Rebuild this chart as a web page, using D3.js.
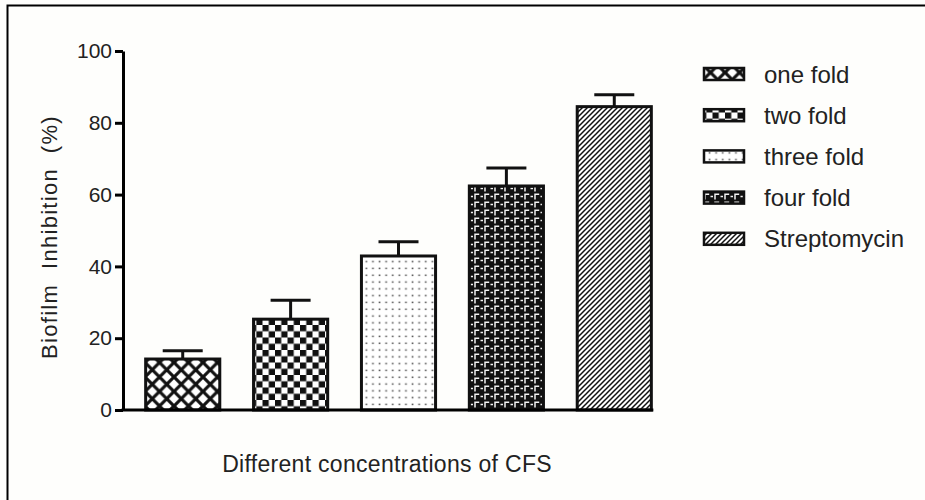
<!DOCTYPE html>
<html><head><meta charset="utf-8">
<script src="https://cdn.jsdelivr.net/npm/d3@7"></script>
<style>
html,body{margin:0;padding:0;background:#fefefc;}
svg{display:block;font-family:Arial,"Liberation Sans",sans-serif;}
</style></head>
<body>
<svg id="c" width="925" height="500"></svg>
<script>
const categories = ["one fold","two fold","three fold","four fold","Streptomycin"];
const values = [14.2, 25.3, 42.9, 62.4, 84.5];
const errors = [2.3, 5.3, 4.0, 5.0, 3.3];
const yTicks = [0,20,40,60,80,100];
const patternIds = ["p-cross","p-check","p-dots","p-four","p-diag"];

const svg = d3.select("#c");
const defs = svg.append("defs");

// patterns
let p = defs.append("pattern").attr("id","p-cross").attr("patternUnits","userSpaceOnUse").attr("width",14.5).attr("height",14.5);
p.append("rect").attr("width",14.5).attr("height",14.5).attr("fill","#fff");
p.append("path").attr("d","M-2,-2L16.5,16.5M-2,16.5L16.5,-2").attr("stroke","#111").attr("stroke-width",3.2);

p = defs.append("pattern").attr("id","p-check").attr("patternUnits","userSpaceOnUse").attr("width",12.5).attr("height",12.5);
p.append("rect").attr("width",12.5).attr("height",12.5).attr("fill","#fff");
p.append("rect").attr("width",6.25).attr("height",6.25).attr("fill","#111");
p.append("rect").attr("x",6.25).attr("y",6.25).attr("width",6.25).attr("height",6.25).attr("fill","#111");

p = defs.append("pattern").attr("id","p-dots").attr("patternUnits","userSpaceOnUse").attr("width",6.6).attr("height",6.8);
p.append("rect").attr("width",6.6).attr("height",6.8).attr("fill","#fff");
p.append("rect").attr("x",2.5).attr("y",2.5).attr("width",1.7).attr("height",1.5).attr("fill","#555");

p = defs.append("pattern").attr("id","p-four").attr("patternUnits","userSpaceOnUse").attr("width",10).attr("height",8);
p.append("rect").attr("width",10).attr("height",8).attr("fill","#111");
p.append("path").attr("d","M0.5,4.5H3M5,7.6V2.2H9.2").attr("stroke","#f2f2f2").attr("stroke-width",1.5).attr("fill","none");

p = defs.append("pattern").attr("id","p-diag").attr("patternUnits","userSpaceOnUse").attr("width",5).attr("height",5);
p.append("rect").attr("width",5).attr("height",5).attr("fill","#fff");
p.append("path").attr("d","M-1,6L6,-1M-1,1L1,-1M4,6L6,4").attr("stroke","#111").attr("stroke-width",1.5);

// frame
svg.append("rect").attr("x",0).attr("y",0).attr("width",925).attr("height",500).attr("fill","#fefefc");
svg.append("path").attr("d","M7.5,510V5.5H930").attr("fill","none").attr("stroke","#000").attr("stroke-width",2);

const y = d3.scaleLinear().domain([0,100]).range([410,51]);
const x = d3.scaleBand().domain(categories).range([123,674]).paddingInner(0.313).paddingOuter(0.21);

// y axis
const yAxis = svg.append("g").attr("transform","translate(123,0)")
  .call(d3.axisLeft(y).tickValues(yTicks).tickSize(8).tickPadding(3).tickSizeOuter(0));
yAxis.select(".domain").attr("stroke","#000").attr("stroke-width",3);
yAxis.selectAll(".tick line").attr("stroke","#000").attr("stroke-width",3);
yAxis.selectAll(".tick text").attr("font-size",21).attr("fill","#222").attr("font-family","Arial,'Liberation Sans',sans-serif");

// bars
const g = svg.append("g");
categories.forEach((c,i)=>{
  const bx = x(c), bw = x.bandwidth(), cx = bx + bw/2;
  g.append("line").attr("x1",cx).attr("x2",cx).attr("y1",y(values[i])).attr("y2",y(values[i]+errors[i])).attr("stroke","#111").attr("stroke-width",3);
  g.append("line").attr("x1",cx-20).attr("x2",cx+20).attr("y1",y(values[i]+errors[i])).attr("y2",y(values[i]+errors[i])).attr("stroke","#111").attr("stroke-width",3);
  g.append("rect").attr("x",bx).attr("y",y(values[i])).attr("width",bw).attr("height",y(0)-y(values[i]))
    .attr("fill",`url(#${patternIds[i]})`).attr("stroke","#111").attr("stroke-width",3);
});

// x axis line
const xEnd = x(categories[categories.length-1]) + x.bandwidth() + 2;
svg.append("line").attr("x1",121.5).attr("x2",xEnd).attr("y1",y(0)).attr("y2",y(0)).attr("stroke","#000").attr("stroke-width",3);

// axis labels
svg.append("text").attr("x",387).attr("y",472).attr("text-anchor","middle").attr("font-size",23).attr("fill","#222")
  .attr("letter-spacing",0.3)
  .text("Different concentrations of CFS");
svg.append("text").attr("transform","translate(57,237) rotate(-90)").attr("text-anchor","middle").attr("font-size",22).attr("fill","#222")
  .attr("letter-spacing",1.3)
  .attr("xml:space","preserve").style("white-space","pre")
  .text("Biofilm  Inhibition  (%)");

// legend
const lg = svg.append("g");
categories.forEach((c,i)=>{
  const ly = 68 + i*41.2;
  lg.append("rect").attr("x",704).attr("y",ly).attr("width",40).attr("height",12)
    .attr("fill",`url(#${patternIds[i]})`).attr("stroke","#111").attr("stroke-width",2.5);
  lg.append("text").attr("x",764).attr("y",ly+14.5).attr("font-size",24).attr("fill","#222").text(c);
});
</script>
</body></html>
